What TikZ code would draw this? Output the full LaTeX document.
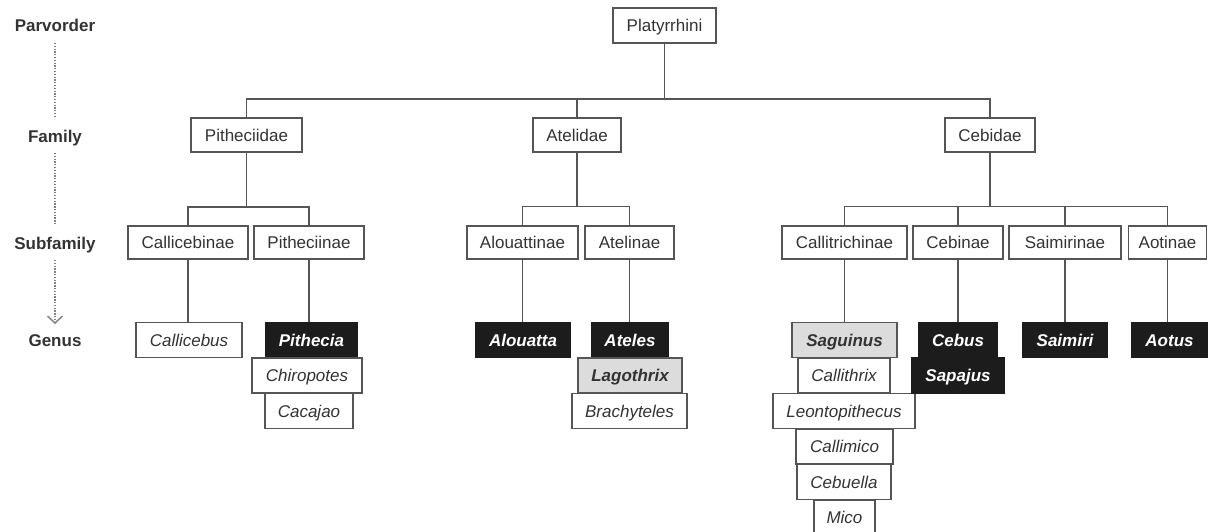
\documentclass[tikz,border=0pt]{standalone}
\usepackage{fontspec}
\setmainfont{Liberation Sans}
\usetikzlibrary{arrows.meta}
\definecolor{ln}{HTML}{555555}
\definecolor{tx}{HTML}{333333}
\definecolor{blk}{HTML}{1C1C1C}
\definecolor{lgray}{HTML}{DCDCDC}
\tikzset{
 box/.style={draw=ln, line width=1.1pt, fill=white, text=tx, minimum height=34pt, inner sep=0pt, text height=12.2pt, text depth=0pt, font=\fontsize{17}{19}\selectfont},
 gen/.style={box, minimum height=35pt, font=\fontsize{17}{19}\selectfont\itshape},
 dark/.style={box, minimum height=35pt, fill=blk, draw=blk, text=white, font=\fontsize{17}{19}\selectfont\bfseries\itshape},
 grey/.style={box, minimum height=35pt, fill=lgray, text=tx, font=\fontsize{17}{19}\selectfont\bfseries\itshape},
 lvl/.style={text=tx, font=\fontsize{17}{19}\selectfont\bfseries, inner sep=0pt, text height=12.2pt, text depth=0pt},
 edge/.style={draw=ln, line width=1.3pt},
 dotline/.style={draw=gray, line width=1.3pt, dash pattern=on 1.3pt off 1.5pt},
}
\begin{document}
\begin{tikzpicture}[x=1pt,y=-1pt]
\useasboundingbox (0,0) rectangle (1208,532);
% level labels
\node[lvl] (lpar) at (55,25) {Parvorder};
\node[lvl] (lfam) at (55,136) {Family};
\node[lvl] (lsub) at (55,243) {Subfamily};
\node[lvl] (lgen) at (55,340) {Genus};
\coordinate (d1a) at (55,43); \coordinate (d1b) at (55,118);
\coordinate (d2a) at (55,153); \coordinate (d2b) at (55,224);
\coordinate (d3a) at (55,260); \coordinate (d3b) at (55,324);
\draw[dotline] (d1a) -- (d1b);
\draw[dotline] (d2a) -- (d2b);
\draw[dotline, -{Straight Barb[length=7pt,width=15pt,line width=1.4pt]}] (d3a) -- (d3b);
% parvorder
\node[box, minimum width=103pt, minimum height=35pt] (plat) at (664.5,25.5) {Platyrrhini};
% families
\node[box, minimum width=111pt] (pith) at (246.5,135) {Pitheciidae};
\node[box, minimum width=88pt] (atel) at (577,135) {Atelidae};
\node[box, minimum width=90pt] (cebi) at (990,135) {Cebidae};
% subfamilies
\node[box, minimum width=120pt, minimum height=33pt] (callsub) at (188,242.5) {Callicebinae};
\node[box, minimum width=110pt, minimum height=33pt] (pithsub) at (309,242.5) {Pitheciinae};
\node[box, minimum width=111pt, minimum height=33pt] (alousub) at (522.5,242.5) {Alouattinae};
\node[box, minimum width=89pt, minimum height=33pt] (atelsub) at (629.5,242.5) {Atelinae};
\node[box, minimum width=125pt, minimum height=33pt] (clitsub) at (844.5,242.5) {Callitrichinae};
\node[box, minimum width=90pt, minimum height=33pt] (cebsub) at (958,242.5) {Cebinae};
\node[box, minimum width=112pt, minimum height=33pt] (saisub) at (1065,242.5) {Saimirinae};
\node[box, minimum width=78pt, minimum height=33pt] (aotsub) at (1167.5,242.5) {Aotinae};
% genera
\node[gen, minimum width=106pt] (callg) at (189,340) {Callicebus};
\node[dark, minimum width=91pt] (pithg) at (311.5,340) {Pithecia};
\node[gen, minimum width=110pt] (chirg) at (307,375.5) {Chiropotes};
\node[gen, minimum width=88pt] (cacag) at (309,411) {Cacajao};
\node[dark, minimum width=94pt] (alog) at (523,340) {Alouatta};
\node[dark, minimum width=76pt] (atelg) at (630,340) {Ateles};
\node[grey, minimum width=104pt] (lagog) at (630,375.5) {Lagothrix};
\node[gen, minimum width=115pt] (bracg) at (629.5,411) {Brachyteles};
\node[grey, minimum width=105pt] (sagug) at (844.5,340) {Saguinus};
\node[gen, minimum width=92pt] (calthg) at (844,375.5) {Callithrix};
\node[gen, minimum width=142pt] (leong) at (844,411) {Leontopithecus};
\node[gen, minimum width=97pt] (calmg) at (844.5,446.5) {Callimico};
\node[gen, minimum width=94pt] (cebug) at (844,482) {Cebuella};
\node[gen, minimum width=61pt] (micog) at (844.5,517.5) {Mico};
\node[dark, minimum width=78pt] (cebusg) at (958,340) {Cebus};
\node[dark, minimum width=92pt] (sapag) at (958,375.5) {Sapajus};
\node[dark, minimum width=84pt] (saig) at (1065,340) {Saimiri};
\node[dark, minimum width=75pt] (aotg) at (1169.5,340) {Aotus};
% buses
\coordinate (bus0) at (664.5,99);
\coordinate (bus1) at (246.5,207);
\coordinate (bus2) at (577,206.5);
\coordinate (bus3) at (990,206.5);
% parvorder -> families
\draw[edge] (plat.south) -- (bus0);
\draw[edge] (pith.north) |- (bus0) -| (cebi.north);
\draw[edge] (atel.north) -- (atel.north |- bus0);
% Pitheciidae
\draw[edge] (pith.south) -- (bus1);
\draw[edge] (callsub.north) |- (bus1) -| (pithsub.north);
% Atelidae
\draw[edge] (atel.south) -- (bus2);
\draw[edge] (alousub.north) |- (bus2) -| (atelsub.north);
% Cebidae
\draw[edge] (cebi.south) -- (bus3);
\draw[edge] (clitsub.north) |- (bus3) -| (aotsub.north);
\draw[edge] (cebsub.north) -- (cebsub.north |- bus3);
\draw[edge] (saisub.north) -- (saisub.north |- bus3);
% subfamily -> genus
\draw[edge] (callsub.south) -- (callsub.south |- callg.north);
\draw[edge] (pithsub.south) -- (pithsub.south |- pithg.north);
\draw[edge] (alousub.south) -- (alousub.south |- alog.north);
\draw[edge] (atelsub.south) -- (atelsub.south |- atelg.north);
\draw[edge] (clitsub.south) -- (clitsub.south |- sagug.north);
\draw[edge] (cebsub.south) -- (cebsub.south |- cebusg.north);
\draw[edge] (saisub.south) -- (saisub.south |- saig.north);
\draw[edge] (aotsub.south) -- (aotsub.south |- aotg.north);
\end{tikzpicture}
\end{document}
